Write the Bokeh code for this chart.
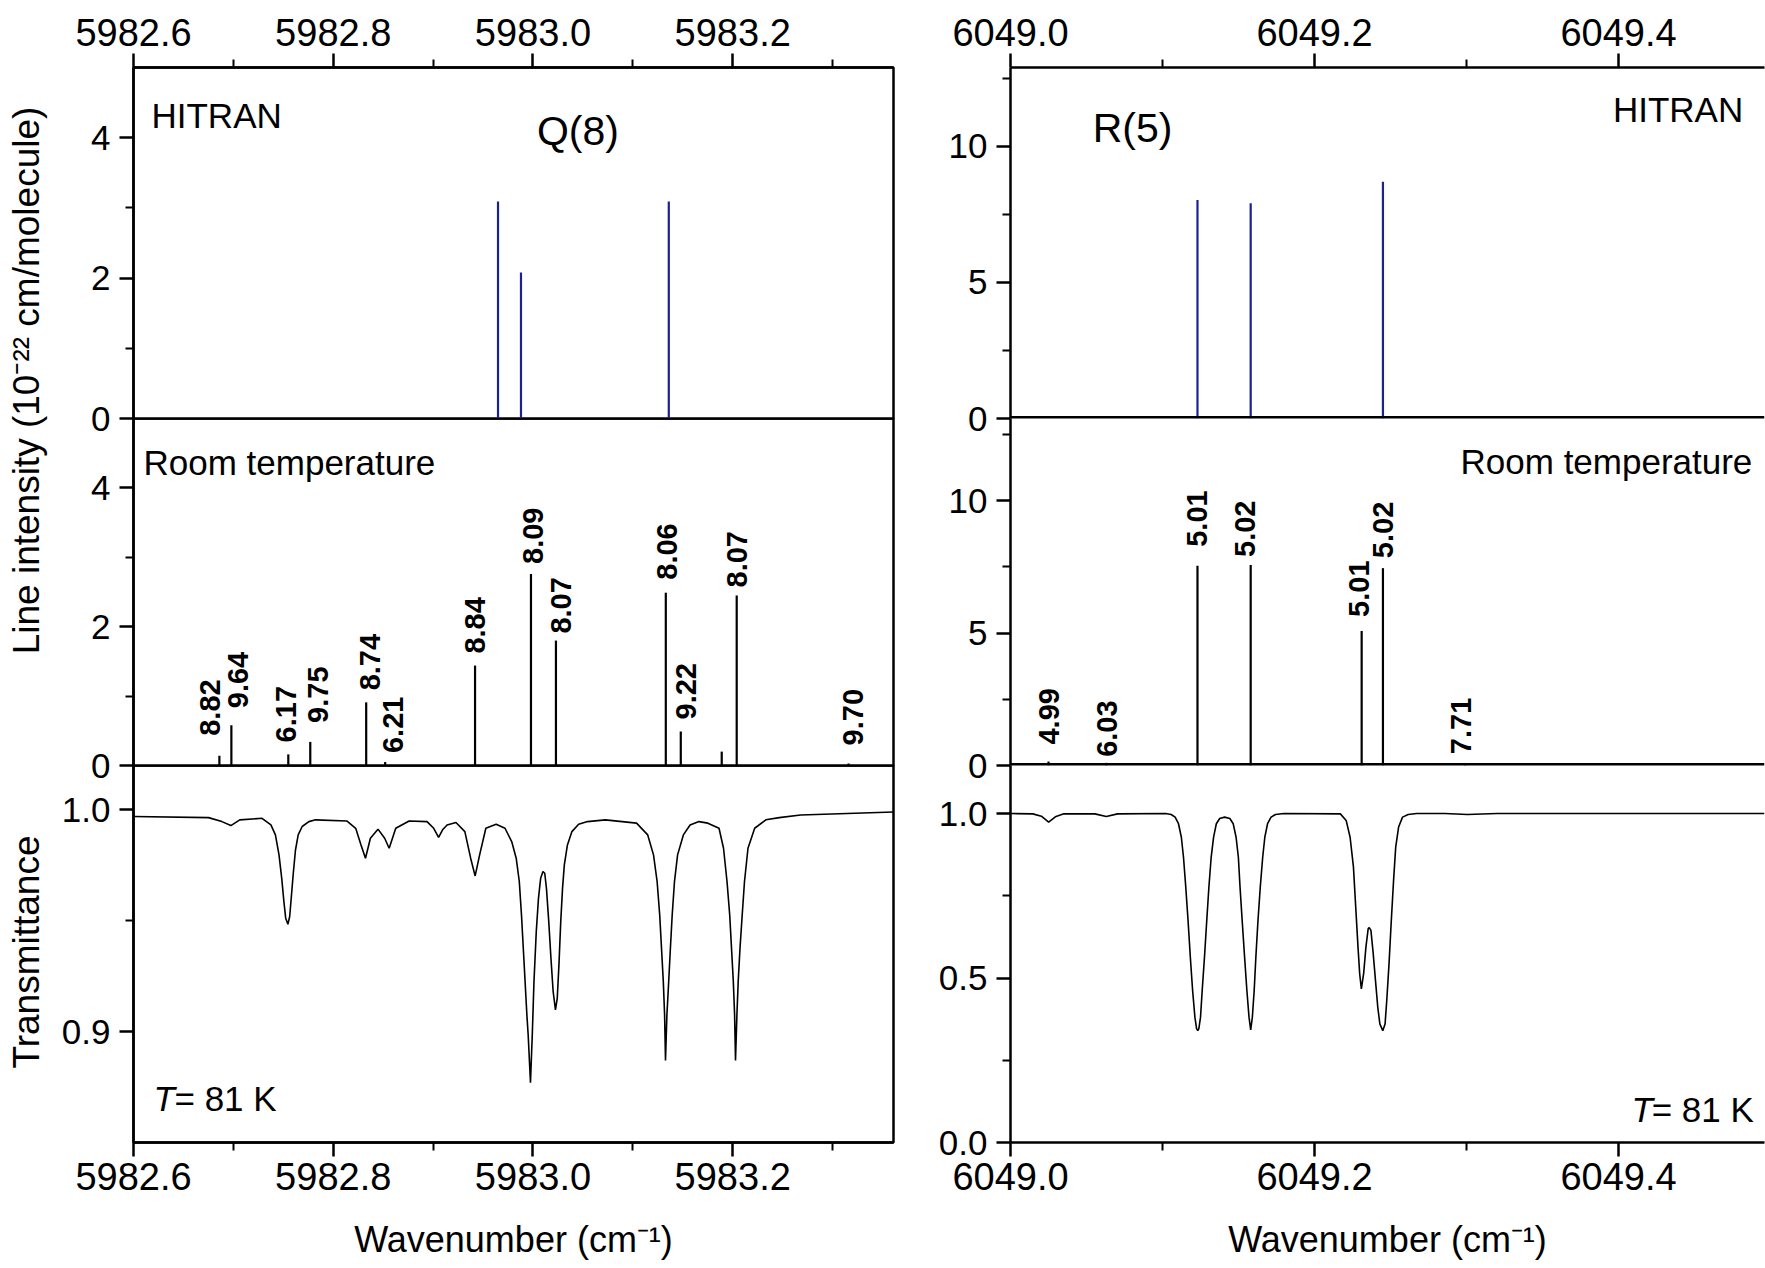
import math
from bokeh.plotting import figure
from bokeh.layouts import row, column
from bokeh.models import FixedTicker, PrintfTickFormatter, Label, ColumnDataSource, Range1d, Span
from bokeh.embed import file_html
from bokeh.resources import INLINE
from bokeh.core.properties import value

# ------------------------------------------------------------------ data
# Q(8) manifold, HITRAN line intensities
q8_hitran_x = [5982.965, 5982.988, 5983.136]
q8_hitran_s = [3.09, 2.08, 3.09]

# Q(8) manifold, room temperature intensities and their labels
q8_room_x = [5982.686, 5982.698, 5982.755, 5982.777, 5982.833, 5982.852, 5982.942,
             5982.998, 5983.023, 5983.133, 5983.148, 5983.189, 5983.204, 5983.316]
q8_room_s = [0.14, 0.58, 0.16, 0.34, 0.91, 0.05, 1.44, 2.76, 1.80, 2.49, 0.49, 0.20, 2.45, 0.03]
q8_room_lbl = ["8.82", "9.64", "6.17", "9.75", "8.74", "6.21", "8.84", "8.09", "8.07",
               "8.06", "9.22", "", "8.07", "9.70"]

# Q(8) transmittance at 81 K (wavenumber, transmittance)
q8_T_pts = [
    (5982.600, 0.9970), (5982.6751, 0.9965), (5982.6885, 0.9947), (5982.6975, 0.9929),
    (5982.7064, 0.9955), (5982.7287, 0.9962), (5982.7376, 0.9932), (5982.7421, 0.9887),
    (5982.7457, 0.9797), (5982.7484, 0.9692), (5982.7506, 0.9586), (5982.7524, 0.9511),
    (5982.7546, 0.9484), (5982.7564, 0.9519), (5982.7582, 0.9616), (5982.7600, 0.9714),
    (5982.7622, 0.9819), (5982.7649, 0.9887), (5982.7689, 0.9925), (5982.7756, 0.9947),
    (5982.7823, 0.9955), (5982.8135, 0.9950), (5982.8225, 0.9917), (5982.8278, 0.9842),
    (5982.8323, 0.9782), (5982.8372, 0.9872), (5982.8448, 0.9913), (5982.8515, 0.9872),
    (5982.8560, 0.9827), (5982.8626, 0.9917), (5982.8760, 0.9950), (5982.8939, 0.9947),
    (5982.9006, 0.9917), (5982.9055, 0.9876), (5982.9095, 0.9910), (5982.9140, 0.9932),
    (5982.9229, 0.9943), (5982.9318, 0.9902), (5982.9376, 0.9782), (5982.9421, 0.9702),
    (5982.9466, 0.9797), (5982.9528, 0.9917), (5982.9631, 0.9935), (5982.9720, 0.9917),
    (5982.9787, 0.9857), (5982.9832, 0.9782), (5982.9863, 0.9677), (5982.9885, 0.9526),
    (5982.9903, 0.9376), (5982.9921, 0.9226), (5982.9939, 0.9075), (5982.9952, 0.8985),
    (5982.9975, 0.8770), (5982.9993, 0.8985), (5983.0010, 0.9226), (5983.0033, 0.9451),
    (5983.0055, 0.9601), (5983.0077, 0.9692), (5983.0100, 0.9722), (5983.0118, 0.9714),
    (5983.0135, 0.9646), (5983.0158, 0.9496), (5983.0180, 0.9331), (5983.0202, 0.9181),
    (5983.0225, 0.9098), (5983.0243, 0.9150), (5983.0260, 0.9301), (5983.0278, 0.9496),
    (5983.0296, 0.9646), (5983.0314, 0.9752), (5983.0345, 0.9842), (5983.0390, 0.9902),
    (5983.0457, 0.9935), (5983.0546, 0.9947), (5983.0725, 0.9955), (5983.1037, 0.9940),
    (5983.1149, 0.9887), (5983.1207, 0.9797), (5983.1243, 0.9677), (5983.1269, 0.9526),
    (5983.1287, 0.9376), (5983.1305, 0.9226), (5983.1318, 0.9075), (5983.1327, 0.8870),
    (5983.1341, 0.9075), (5983.1359, 0.9226), (5983.1376, 0.9376), (5983.1394, 0.9526),
    (5983.1417, 0.9677), (5983.1448, 0.9797), (5983.1506, 0.9887), (5983.1573, 0.9932),
    (5983.1662, 0.9947), (5983.1751, 0.9940), (5983.1863, 0.9917), (5983.1908, 0.9827),
    (5983.1943, 0.9677), (5983.1970, 0.9526), (5983.1988, 0.9376), (5983.2006, 0.9226),
    (5983.2019, 0.9075), (5983.2028, 0.8870), (5983.2042, 0.9075), (5983.2055, 0.9226),
    (5983.2073, 0.9376), (5983.2095, 0.9526), (5983.2118, 0.9677), (5983.2153, 0.9827),
    (5983.2220, 0.9917), (5983.2332, 0.9955), (5983.2466, 0.9965), (5983.2680, 0.9977),
    (5983.3610, 0.9990),
]

# R(5) manifold, HITRAN
r5_hitran_x = [6049.123, 6049.158, 6049.245]
r5_hitran_s = [8.03, 7.91, 8.70]

# R(5) manifold, room temperature
r5_room_x = [6049.025, 6049.063, 6049.123, 6049.158, 6049.231, 6049.245, 6049.299]
r5_room_s = [0.15, 0.10, 7.54, 7.57, 5.08, 7.45, 0.05]
r5_room_lbl = ["4.99", "6.03", "5.01", "5.02", "5.01", "5.02", "7.71"]

# R(5) transmittance at 81 K
r5_T_pts = [
    (6049.0000, 1.000), (6049.0147, 0.999), (6049.0203, 0.992), (6049.0251, 0.974),
    (6049.0295, 0.990), (6049.0351, 0.999), (6049.0555, 0.999), (6049.0630, 0.991),
    (6049.0704, 0.999), (6049.1020, 1.000), (6049.1057, 0.997), (6049.1083, 0.989),
    (6049.1105, 0.969), (6049.1124, 0.928), (6049.1138, 0.867), (6049.1153, 0.776),
    (6049.1168, 0.675), (6049.1183, 0.563), (6049.1198, 0.462), (6049.1213, 0.381),
    (6049.1224, 0.346), (6049.1232, 0.340), (6049.1239, 0.346), (6049.1250, 0.381),
    (6049.1261, 0.462), (6049.1276, 0.563), (6049.1291, 0.675), (6049.1305, 0.776),
    (6049.1320, 0.867), (6049.1336, 0.928), (6049.1354, 0.969), (6049.1376, 0.985),
    (6049.1409, 0.989), (6049.1443, 0.985), (6049.1465, 0.969), (6049.1484, 0.928),
    (6049.1499, 0.867), (6049.1510, 0.776), (6049.1524, 0.675), (6049.1540, 0.563),
    (6049.1555, 0.462), (6049.1569, 0.381), (6049.1580, 0.342), (6049.1591, 0.381),
    (6049.1603, 0.462), (6049.1614, 0.563), (6049.1628, 0.675), (6049.1643, 0.776),
    (6049.1659, 0.867), (6049.1673, 0.928), (6049.1691, 0.969), (6049.1714, 0.989),
    (6049.1743, 0.997), (6049.1799, 1.000), (6049.2170, 0.999), (6049.2208, 0.979),
    (6049.2234, 0.928), (6049.2256, 0.837), (6049.2271, 0.715), (6049.2286, 0.594),
    (6049.2297, 0.513), (6049.2308, 0.467), (6049.2323, 0.513), (6049.2338, 0.594),
    (6049.2353, 0.650), (6049.2360, 0.653), (6049.2371, 0.645), (6049.2386, 0.574),
    (6049.2401, 0.492), (6049.2416, 0.411), (6049.2430, 0.360), (6049.2449, 0.340),
    (6049.2464, 0.360), (6049.2475, 0.431), (6049.2490, 0.543), (6049.2505, 0.675),
    (6049.2520, 0.797), (6049.2534, 0.898), (6049.2553, 0.959), (6049.2579, 0.989),
    (6049.2616, 0.997), (6049.2672, 1.000), (6049.2857, 1.000), (6049.3006, 0.997),
    (6049.3200, 1.000), (6049.4960, 1.000),
]

# tick values
left_x_major = [5982.6, 5982.8, 5983.0, 5983.2]
left_x_minor = [5982.7, 5982.9, 5983.1, 5983.3]
right_x_major = [6049.0, 6049.2, 6049.4]
right_x_minor = [6049.1, 6049.3]
left_s_major, left_s_minor = [0, 2, 4], [1, 3]
right_s_major, right_s_minor = [0, 5, 10], [2.5, 7.5, 12.5]
left_t_major, left_t_minor = [0.9, 1.0], [0.95]
right_t_major, right_t_minor = [0.0, 0.5, 1.0], [0.25, 0.75]

q8_T_x = [p[0] for p in q8_T_pts]
q8_T_y = [p[1] for p in q8_T_pts]
r5_T_x = [p[0] for p in r5_T_pts]
r5_T_y = [p[1] for p in r5_T_pts]

# ------------------------------------------------------------------ layout / style
FONT = "Liberation Sans"
BLUE = "#1c2190"
# stick-label nudges in pixels (x shift, gap above the stick top)
q8_nudge = [-9, 7, -2, 8, 4, 8, 0, 2, 5, 1, 5, 0, 0, 4]
q8_gap = [20, 17, 12, 19, 12, 9, 12, 10, 7, 13, 12, 0, 8, 18]
r5_nudge = [0, 1, 0, -6, -3, 0, -4]
r5_gap = [17, 6, 19, 8, 14, 10, 10]

EXT = 20                      # extra canvas below top / middle frames (overlapped)
W_LAB = 58
W_L, BL_L, BR_L = 842, 74, 7
W_R, BL_R, BR_R = 865, 110, 1
FR_TOP, FR_MID, FR_BOT = 351, 347, 377
BT_TOP, BB_BOT = 67, 122


def style_axis(ax, major, minor, fmt, size="38px", standoff=6):
    ax.ticker = FixedTicker(ticks=major, minor_ticks=minor)
    ax.formatter = PrintfTickFormatter(format=fmt)
    ax.major_label_text_font = FONT
    ax.major_label_text_font_size = size
    ax.major_label_text_color = "black"
    ax.axis_line_width = 2.5
    ax.axis_line_color = "black"
    ax.major_tick_line_width = 2.5
    ax.minor_tick_line_width = 2
    ax.major_tick_line_color = "black"
    ax.minor_tick_line_color = "black"
    ax.major_tick_out = 14
    ax.major_tick_in = 0
    ax.minor_tick_out = 8
    ax.minor_tick_in = 0
    ax.major_label_standoff = standoff
    ax.axis_label_text_font = FONT
    ax.axis_label_text_font_size = "36px"
    ax.axis_label_text_font_style = "normal"
    ax.axis_label_text_color = "black"


def style_y(ax, major, minor, fmt):
    style_axis(ax, major, minor, fmt, size="35px", standoff=9)


def make_fig(width, height, xr, yr, bl, br, bt, bb, xloc, margin=None, outline=True):
    p = figure(width=width, height=height, x_range=Range1d(*xr), y_range=Range1d(*yr),
               output_backend="svg", toolbar_location=None, tools="", x_axis_location=xloc,
               min_border_left=bl, min_border_right=br, min_border_top=bt, min_border_bottom=bb)
    if margin is not None:
        p.margin = margin
    p.xgrid.visible = False
    p.ygrid.visible = False
    if outline:
        p.outline_line_color = "black"
        p.outline_line_width = 2.5
        p.outline_line_alpha = 1
    else:
        p.outline_line_color = None
    p.background_fill_color = None
    p.border_fill_color = None
    return p


def zero_line(p):
    # drawn on the frame's lower edge; half of it is clipped, so draw it twice as wide
    p.add_layout(Span(location=0, dimension="width", line_color="black", line_width=5))


def add_label(p, x, y, text, size="35px", align="left", style="normal", x_offset=0):
    p.add_layout(Label(x=x, y=y, text=text, text_font=FONT, text_font_size=size,
                       text_align=align, text_baseline="middle", text_font_style=style,
                       text_color="black", x_offset=x_offset))


def sticks(p, xs, hs, color):
    p.segment(x0=xs, y0=[0] * len(xs), x1=xs, y1=hs, line_color=color, line_width=2.2)


def stick_labels(p, xs, hs, labels, nudge, gap):
    src = ColumnDataSource(dict(x=xs, y=hs, t=labels, xo=nudge, yo=[-g for g in gap]))
    p.text(x="x", y="y", text="t", source=src, angle=math.pi / 2, x_offset="xo", y_offset="yo",
           text_align="left", text_baseline="middle", text_font=value(FONT),
           text_font_style="bold", text_font_size="29px", text_color="black")


LX = (5982.6, 5983.361)
RX = (6049.0, 6049.496)
H_TOP = BT_TOP + FR_TOP + EXT
H_MID = FR_MID + EXT
H_BOT = FR_BOT + BB_BOT
PULL = (-EXT, 0, 0, 0)

# ---- left column (Q(8))
tl = make_fig(W_L, H_TOP, LX, (0, 5), BL_L, BR_L, BT_TOP, EXT, "above")
style_axis(tl.xaxis[0], left_x_major, left_x_minor, "%.1f", standoff=8)
style_y(tl.yaxis[0], left_s_major, left_s_minor, "%d")
sticks(tl, q8_hitran_x, q8_hitran_s, BLUE)
add_label(tl, 5982.618, 4.32, "HITRAN")
add_label(tl, 5983.045, 4.10, "Q(8)", size="41px", align="center")

ml = make_fig(W_L, H_MID, LX, (0, 5), BL_L, BR_L, 0, EXT, None, PULL)
style_y(ml.yaxis[0], left_s_major, left_s_minor, "%d")
sticks(ml, q8_room_x, q8_room_s, "black")
stick_labels(ml, q8_room_x, q8_room_s, q8_room_lbl, q8_nudge, q8_gap)
add_label(ml, 5982.61, 4.37, "Room temperature")

bl = make_fig(W_L, H_BOT, LX, (0.85, 1.02), BL_L, BR_L, 0, BB_BOT, "below", PULL)
style_axis(bl.xaxis[0], left_x_major, left_x_minor, "%.1f")
style_y(bl.yaxis[0], left_t_major, left_t_minor, "%.1f")
bl.xaxis[0].axis_label = "Wavenumber (cm\u207b\u00b9)"
bl.xaxis[0].axis_label_standoff = 26
bl.line(q8_T_x, q8_T_y, line_color="black", line_width=1.6)
add_label(bl, 5982.62, 0.870, "T", style="italic")
add_label(bl, 5982.62, 0.870, "= 81 K", x_offset=21)

# ---- right column (R(5)); the panel runs off the right edge, so no right border
tr = make_fig(W_R, H_TOP, RX, (0, 12.9), BL_R, BR_R, BT_TOP, EXT, "above", outline=False)
style_axis(tr.xaxis[0], right_x_major, right_x_minor, "%.1f", standoff=8)
style_y(tr.yaxis[0], right_s_major, right_s_minor, "%d")
zero_line(tr)
sticks(tr, r5_hitran_x, r5_hitran_s, BLUE)
add_label(tr, 6049.0803, 10.66, "R(5)", size="41px", align="center")
add_label(tr, 6049.482, 11.36, "HITRAN", align="right")

mr = make_fig(W_R, H_MID, RX, (0, 13.1), BL_R, BR_R, 0, EXT, None, PULL, outline=False)
style_y(mr.yaxis[0], right_s_major, right_s_minor, "%d")
zero_line(mr)
sticks(mr, r5_room_x, r5_room_s, "black")
stick_labels(mr, r5_room_x, r5_room_s, r5_room_lbl, r5_nudge, r5_gap)
add_label(mr, 6049.488, 11.47, "Room temperature", align="right")

br = make_fig(W_R, H_BOT, RX, (0, 1.146), BL_R, BR_R, 0, BB_BOT, "below", PULL, outline=False)
style_axis(br.xaxis[0], right_x_major, right_x_minor, "%.1f")
style_y(br.yaxis[0], right_t_major, right_t_minor, "%.1f")
br.xaxis[0].axis_label = "Wavenumber (cm\u207b\u00b9)"
br.xaxis[0].axis_label_standoff = 26
br.line(r5_T_x, r5_T_y, line_color="black", line_width=1.6)
add_label(br, 6049.489, 0.100, "= 81 K", align="right")
add_label(br, 6049.489, 0.100, "T", align="right", style="italic", x_offset=-101)


# ---- y-axis title strips
def label_fig(height, bt, bb, text):
    p = figure(width=W_LAB, height=height, x_range=Range1d(0, 1), y_range=Range1d(0, 1),
               output_backend="svg", toolbar_location=None, tools="", x_axis_location=None,
               min_border_left=48, min_border_right=1, min_border_top=bt, min_border_bottom=bb)
    p.outline_line_color = None
    p.background_fill_color = None
    p.border_fill_color = None
    p.xgrid.visible = False
    p.ygrid.visible = False
    ax = p.yaxis[0]
    ax.ticker = FixedTicker(ticks=[])
    ax.axis_line_color = None
    ax.major_tick_line_color = None
    ax.minor_tick_line_color = None
    ax.axis_label = text
    ax.axis_label_standoff = 2
    ax.axis_label_text_font = FONT
    ax.axis_label_text_font_size = "37px"
    ax.axis_label_text_font_style = "normal"
    ax.axis_label_text_color = "black"
    return p


H_UP = H_TOP + H_MID - EXT
lab1 = label_fig(H_UP, BT_TOP, H_UP - BT_TOP - 626,
                 "Line intensity (10\u207b\u00b2\u00b2 cm/molecule)")
lab2 = label_fig(H_BOT - EXT, 0, BB_BOT + 24, "Transmittance")

layout = row(column(lab1, lab2), column(tl, ml, bl), column(tr, mr, br))

open("out.html", "w").write(file_html(layout, INLINE))
